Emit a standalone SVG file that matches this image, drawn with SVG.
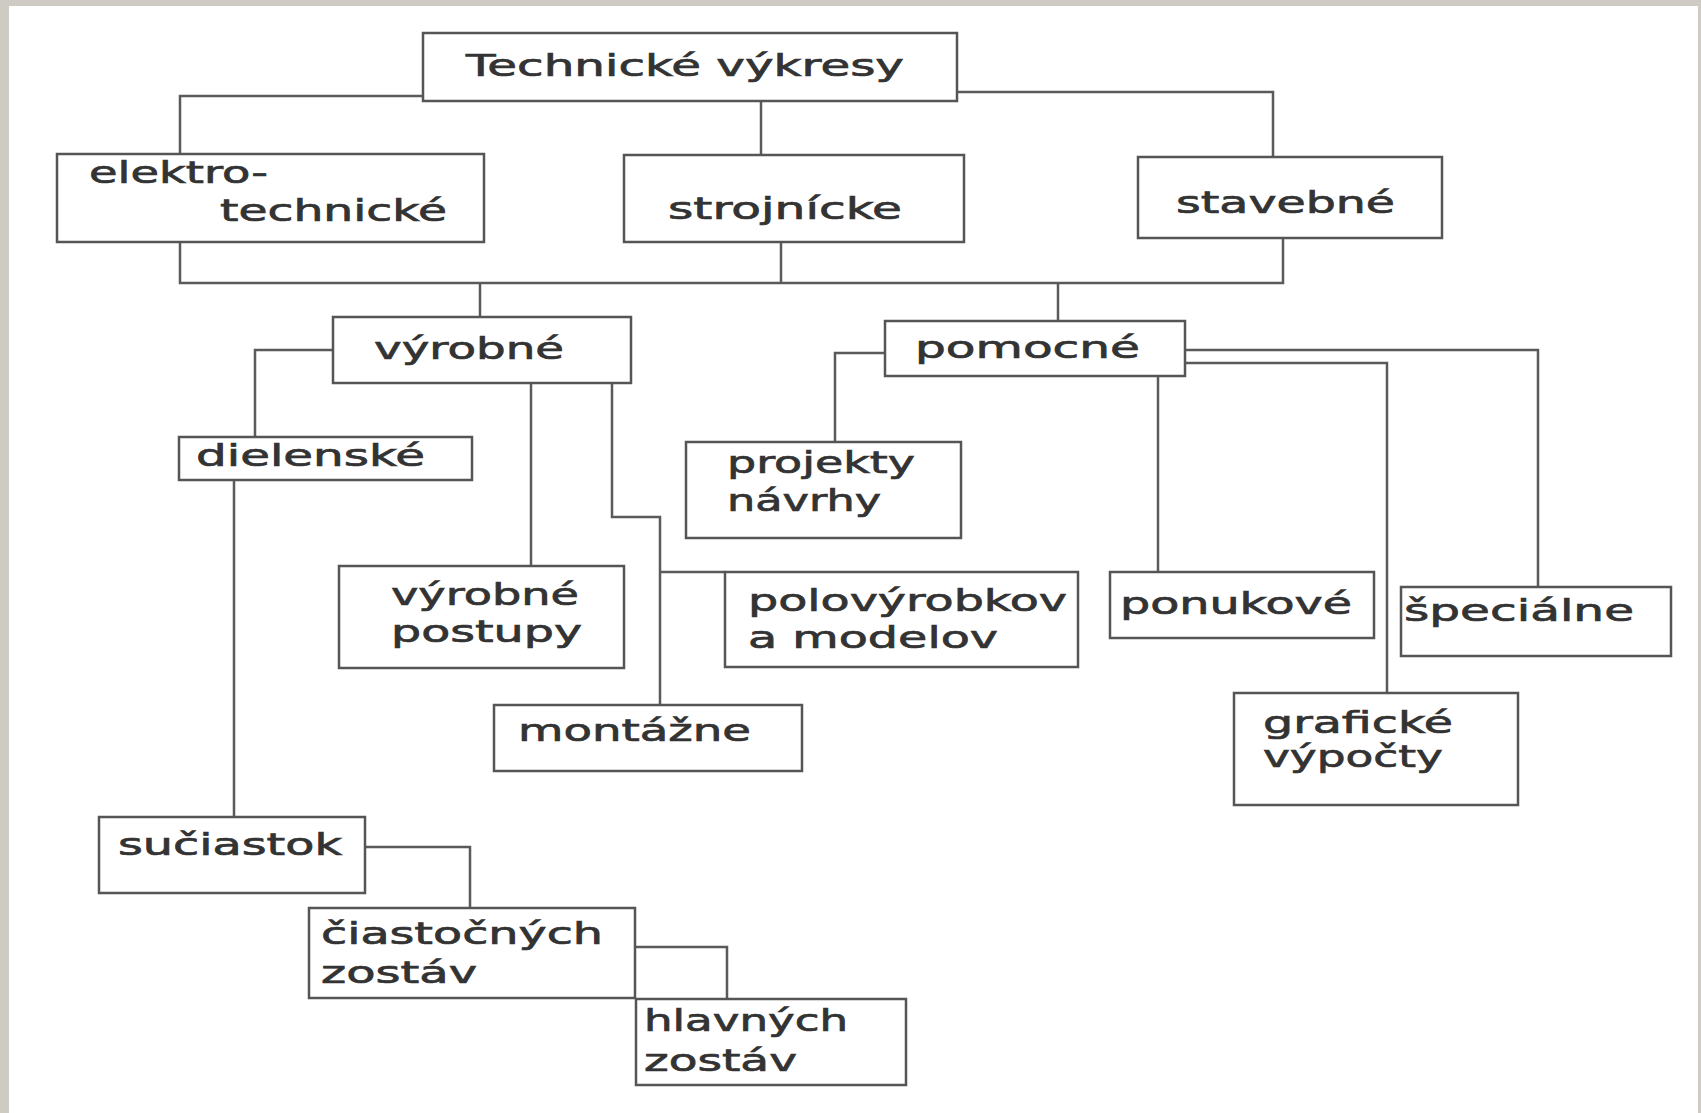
<svg xmlns="http://www.w3.org/2000/svg" width="1701" height="1113" viewBox="0 0 1701 1113">
<style>
.box{fill:#fff;stroke:#555;stroke-width:2.5}
.ln{fill:none;stroke:#5a5a5a;stroke-width:2.5}
text{font-family:"DejaVu Sans","Liberation Sans",sans-serif;font-size:31px;fill:#333;stroke:#333;stroke-width:0.7}
</style>
<rect x="0" y="0" width="1701" height="1113" fill="#cdcbc3"/>
<rect x="9" y="6" width="1689" height="1107" fill="#ffffff"/>
<g id="connectors">
<path class="ln" d="M423,96 H180 V154"/>
<path class="ln" d="M761,101 V155"/>
<path class="ln" d="M957,92 H1273 V157"/>
<path class="ln" d="M180,242 V283 H1283 V238"/>
<path class="ln" d="M781,242 V283"/>
<path class="ln" d="M480,283 V317"/>
<path class="ln" d="M1058,283 V321"/>
<path class="ln" d="M333,350 H255 V437"/>
<path class="ln" d="M531,383 V566"/>
<path class="ln" d="M612,383 V517 H660 V705"/>
<path class="ln" d="M660,572 H725"/>
<path class="ln" d="M234,480 V817"/>
<path class="ln" d="M365,847 H470 V908"/>
<path class="ln" d="M635,947 H727 V999"/>
<path class="ln" d="M885,353 H835 V442"/>
<path class="ln" d="M1158,376 V572"/>
<path class="ln" d="M1185,363 H1387 V693"/>
<path class="ln" d="M1185,350 H1538 V587"/>
</g>
<g id="n-technicke"><rect class="box" x="423" y="33" width="534" height="68"/><text x="466" y="76" textLength="438" lengthAdjust="spacingAndGlyphs">Technické výkresy</text></g>
<g id="n-elektro"><rect class="box" x="57" y="154" width="427" height="88"/><text x="89" y="183" textLength="179" lengthAdjust="spacingAndGlyphs">elektro-</text><text x="220" y="221" textLength="227" lengthAdjust="spacingAndGlyphs">technické</text></g>
<g id="n-strojnicke"><rect class="box" x="624" y="155" width="340" height="87"/><text x="668" y="219" textLength="234" lengthAdjust="spacingAndGlyphs">strojnícke</text></g>
<g id="n-stavebne"><rect class="box" x="1138" y="157" width="304" height="81"/><text x="1176" y="213" textLength="219" lengthAdjust="spacingAndGlyphs">stavebné</text></g>
<g id="n-vyrobne"><rect class="box" x="333" y="317" width="298" height="66"/><text x="374" y="359" textLength="190" lengthAdjust="spacingAndGlyphs">výrobné</text></g>
<g id="n-pomocne"><rect class="box" x="885" y="321" width="300" height="55"/><text x="915" y="358" textLength="225" lengthAdjust="spacingAndGlyphs">pomocné</text></g>
<g id="n-dielenske"><rect class="box" x="179" y="437" width="293" height="43"/><text x="196" y="466" textLength="229" lengthAdjust="spacingAndGlyphs">dielenské</text></g>
<g id="n-projekty"><rect class="box" x="686" y="442" width="275" height="96"/><text x="727" y="473" textLength="188" lengthAdjust="spacingAndGlyphs">projekty</text><text x="727" y="511" textLength="154" lengthAdjust="spacingAndGlyphs">návrhy</text></g>
<g id="n-postupy"><rect class="box" x="339" y="566" width="285" height="102"/><text x="391" y="605" textLength="188" lengthAdjust="spacingAndGlyphs">výrobné</text><text x="391" y="642" textLength="191" lengthAdjust="spacingAndGlyphs">postupy</text></g>
<g id="n-polovyrobkov"><rect class="box" x="725" y="572" width="353" height="95"/><text x="748" y="611" textLength="319" lengthAdjust="spacingAndGlyphs">polovýrobkov</text><text x="748" y="648" textLength="250" lengthAdjust="spacingAndGlyphs">a modelov</text></g>
<g id="n-ponukove"><rect class="box" x="1110" y="572" width="264" height="66"/><text x="1120" y="614" textLength="232" lengthAdjust="spacingAndGlyphs">ponukové</text></g>
<g id="n-specialne"><rect class="box" x="1401" y="587" width="270" height="69"/><text x="1404" y="621" textLength="230" lengthAdjust="spacingAndGlyphs">špeciálne</text></g>
<g id="n-montazne"><rect class="box" x="494" y="705" width="308" height="66"/><text x="518" y="741" textLength="233" lengthAdjust="spacingAndGlyphs">montážne</text></g>
<g id="n-graficke"><rect class="box" x="1234" y="693" width="284" height="112"/><text x="1263" y="733" textLength="190" lengthAdjust="spacingAndGlyphs">grafické</text><text x="1263" y="767" textLength="180" lengthAdjust="spacingAndGlyphs">výpočty</text></g>
<g id="n-suciastok"><rect class="box" x="99" y="817" width="266" height="76"/><text x="118" y="855" textLength="224" lengthAdjust="spacingAndGlyphs">sučiastok</text></g>
<g id="n-ciastocnych"><rect class="box" x="309" y="908" width="326" height="90"/><text x="321" y="944" textLength="282" lengthAdjust="spacingAndGlyphs">čiastočných</text><text x="321" y="983" textLength="156" lengthAdjust="spacingAndGlyphs">zostáv</text></g>
<g id="n-hlavnych"><rect class="box" x="636" y="999" width="270" height="86"/><text x="644" y="1031" textLength="204" lengthAdjust="spacingAndGlyphs">hlavných</text><text x="644" y="1071" textLength="153" lengthAdjust="spacingAndGlyphs">zostáv</text></g>
</svg>
